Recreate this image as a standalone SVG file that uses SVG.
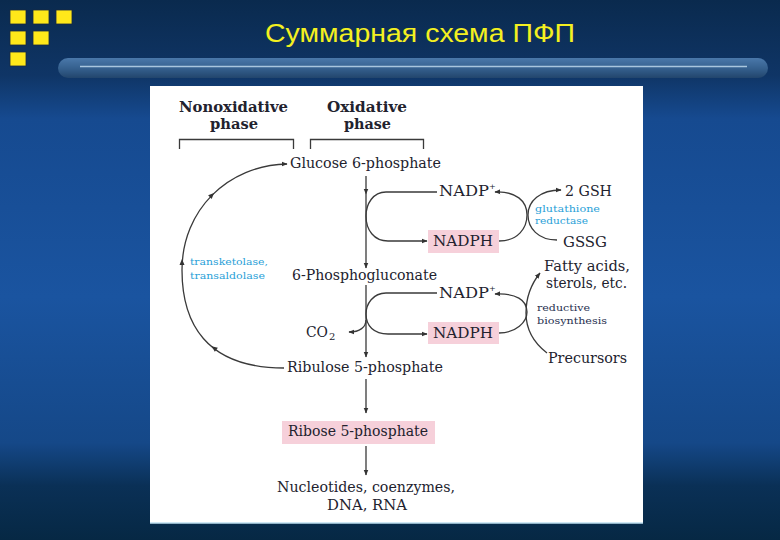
<svg xmlns="http://www.w3.org/2000/svg" width="780" height="540" viewBox="0 0 780 540">
<defs>
<linearGradient id="bg" x1="0" y1="0" x2="0" y2="1">
<stop offset="0" stop-color="#0a2a4e"/>
<stop offset="0.14" stop-color="#0f3566"/>
<stop offset="0.22" stop-color="#164a90"/>
<stop offset="0.55" stop-color="#1a54a0"/>
<stop offset="0.82" stop-color="#154888"/>
<stop offset="0.9" stop-color="#0a3056"/>
<stop offset="1" stop-color="#062844"/>
</linearGradient>
<linearGradient id="bar" x1="0" y1="0" x2="0" y2="1">
<stop offset="0" stop-color="#4a78aa"/>
<stop offset="0.5" stop-color="#36618f"/>
<stop offset="1" stop-color="#22456c"/>
</linearGradient>
<marker id="ah" viewBox="0 0 10 10" refX="9" refY="5" markerWidth="6" markerHeight="6" markerUnits="userSpaceOnUse" orient="auto">
<path d="M0,1 L10,5 L0,9 Z" fill="#333"/>
</marker>
<style>
.t{font-family:"DejaVu Serif","Liberation Serif",serif;font-size:15px;fill:#22222e}
.s{font-family:"DejaVu Serif","Liberation Serif",serif;font-size:14px;fill:#22222e}
.big{font-family:"DejaVu Serif","Liberation Serif",serif;font-size:15.5px;fill:#22222e}
.h{font-family:"DejaVu Serif","Liberation Serif",serif;font-size:14.5px;font-weight:bold;fill:#22222e}
.b{font-family:"DejaVu Serif","Liberation Serif",serif;font-size:10px;fill:#2a9fd8}
.n{font-family:"DejaVu Serif","Liberation Serif",serif;font-size:10px;fill:#283050}
.sup{font-family:"DejaVu Serif","Liberation Serif",serif;font-size:8px;fill:#22222e}
.sub{font-family:"DejaVu Serif","Liberation Serif",serif;font-size:10px;fill:#22222e}
.c{fill:none;stroke:#3a3a3a;stroke-width:1.3}
.box{fill:#f6d0da}
.sq{fill:#ffe81a;stroke:#1a2a40;stroke-width:0.8}
</style>
</defs>
<rect x="0" y="0" width="780" height="540" fill="url(#bg)"/>
<g id="squares">
<rect class="sq" x="10" y="10" width="16" height="14"/>
<rect class="sq" x="33" y="10" width="16" height="14"/>
<rect class="sq" x="56" y="10" width="16" height="14"/>
<rect class="sq" x="10" y="31" width="16" height="14"/>
<rect class="sq" x="33" y="31" width="16" height="14"/>
<rect class="sq" x="10" y="52" width="16" height="14"/>
</g>
<text x="265" y="42" textLength="310" lengthAdjust="spacingAndGlyphs" font-family="Liberation Sans, Arial, sans-serif" font-size="26" fill="#f4f020">Суммарная схема ПФП</text>
<g id="titlebar">
<rect x="58" y="58" width="710" height="20" rx="10" fill="url(#bar)"/>
<line x1="80" y1="66.5" x2="747" y2="66.5" stroke="#a9c6de" stroke-width="1.3"/>
</g>
<rect x="150" y="86" width="493" height="437" fill="#ffffff"/>
<line x1="150" y1="523" x2="643" y2="523" stroke="#bfe0f0" stroke-width="1.5"/>

<g id="headers">
<text class="h" x="179" y="112" textLength="109" lengthAdjust="spacingAndGlyphs">Nonoxidative</text>
<text class="h" x="210" y="129" textLength="48" lengthAdjust="spacingAndGlyphs">phase</text>
<text class="h" x="327" y="112" textLength="80" lengthAdjust="spacingAndGlyphs">Oxidative</text>
<text class="h" x="344" y="129" textLength="47" lengthAdjust="spacingAndGlyphs">phase</text>
<path class="c" d="M179.5,149 V139.5 H293.5 V149"/>
<path class="c" d="M310.5,149 V139.5 H423.5 V149"/>
</g>

<g id="connectors">
<path class="c" d="M284,368 C205,368 182,322 182,270 C182,210 228,165 287,164" marker-end="url(#ah)"/>
<polygon points="3,0 -3,-2.5 -3,2.5" fill="#333" transform="translate(214,348) rotate(217.6)"/>
<polygon points="3,0 -3,-2.5 -3,2.5" fill="#333" transform="translate(182,262) rotate(-90)"/>
<polygon points="3,0 -3,-2.5 -3,2.5" fill="#333" transform="translate(212,195) rotate(-45)"/>
<path class="c" d="M366,176 V194" marker-end="url(#ah)"/>
<path class="c" d="M366,194 V268" marker-end="url(#ah)"/>
<path class="c" d="M366,285 V357" marker-end="url(#ah)"/>
<path class="c" d="M366,379 V413" marker-end="url(#ah)"/>
<path class="c" d="M366,446 V475" marker-end="url(#ah)"/>
<path class="c" d="M437,192 L386,192 C373,192 366,204 366,216 C366,230 374,241 388,241 L427,241" marker-end="url(#ah)"/>
<path class="c" d="M499,241 C518,241 527,228 527,215 C527,201 516,191 495,192" marker-end="url(#ah)"/>
<path class="c" d="M557,240 C538,240 528,228 528,215 C528,201 540,190 561,190" marker-end="url(#ah)"/>
<path class="c" d="M437,293 L386,293 C373,293 366,304 366,314 C366,326 374,334 388,334 L427,334" marker-end="url(#ah)"/>
<path class="c" d="M366,320 C366,327 360,332 349,332" marker-end="url(#ah)"/>
<path class="c" d="M499,333 C516,333 527,322 527,312 C527,300 516,293 495,294" marker-end="url(#ah)"/>
<path class="c" d="M547,353 C534,343 526,330 526,313 C526,296 532,283 540,273" marker-end="url(#ah)"/>
</g>

<g id="enzyme-labels">
<text class="b" x="190" y="265" textLength="78" lengthAdjust="spacingAndGlyphs">transketolase,</text>
<text class="b" x="190" y="279" textLength="75" lengthAdjust="spacingAndGlyphs">transaldolase</text>
<text class="b" x="535" y="212" textLength="65" lengthAdjust="spacingAndGlyphs">glutathione</text>
<text class="b" x="535" y="224" textLength="53" lengthAdjust="spacingAndGlyphs">reductase</text>
<text class="n" x="537" y="311" textLength="53" lengthAdjust="spacingAndGlyphs">reductive</text>
<text class="n" x="537" y="324" textLength="70" lengthAdjust="spacingAndGlyphs">biosynthesis</text>
</g>

<g id="glucose6p"><text class="t" x="290" y="168" textLength="151" lengthAdjust="spacingAndGlyphs">Glucose 6-phosphate</text></g>
<g id="phosphogluconate"><text class="t" x="292" y="280" textLength="145" lengthAdjust="spacingAndGlyphs">6-Phosphogluconate</text></g>
<g id="ribulose5p"><text class="t" x="287" y="372" textLength="156" lengthAdjust="spacingAndGlyphs">Ribulose 5-phosphate</text></g>
<g id="ribose5p">
<rect class="box" x="282" y="421" width="153" height="23"/>
<text class="t" x="288" y="436" textLength="140" lengthAdjust="spacingAndGlyphs">Ribose 5-phosphate</text>
</g>
<g id="nucleotides">
<text class="t" x="277" y="492" textLength="178" lengthAdjust="spacingAndGlyphs">Nucleotides, coenzymes,</text>
<text class="t" x="327" y="510" textLength="80" lengthAdjust="spacingAndGlyphs">DNA, RNA</text>
</g>
<g id="nadp1">
<text class="t" x="439" y="196" textLength="50" lengthAdjust="spacingAndGlyphs">NADP</text>
<text class="sup" x="489" y="189">+</text>
</g>
<g id="nadph1">
<rect class="box" x="428" y="230" width="71" height="23"/>
<text class="big" x="433" y="246" textLength="60" lengthAdjust="spacingAndGlyphs">NADPH</text>
</g>
<g id="nadp2">
<text class="t" x="439" y="298" textLength="50" lengthAdjust="spacingAndGlyphs">NADP</text>
<text class="sup" x="489" y="291">+</text>
</g>
<g id="nadph2">
<rect class="box" x="428" y="322" width="71" height="22"/>
<text class="big" x="433" y="338" textLength="60" lengthAdjust="spacingAndGlyphs">NADPH</text>
</g>
<g id="co2">
<text class="t" x="306" y="337" textLength="22" lengthAdjust="spacingAndGlyphs">CO</text>
<text class="sub" x="329" y="340">2</text>
</g>
<g id="gsh"><text class="t" x="565" y="196" textLength="47" lengthAdjust="spacingAndGlyphs">2 GSH</text></g>
<g id="gssg"><text class="t" x="563" y="247" textLength="44" lengthAdjust="spacingAndGlyphs">GSSG</text></g>
<g id="fatty">
<text class="s" x="544" y="271" textLength="86" lengthAdjust="spacingAndGlyphs">Fatty acids,</text>
<text class="s" x="546" y="288" textLength="81" lengthAdjust="spacingAndGlyphs">sterols, etc.</text>
</g>
<g id="precursors"><text class="t" x="548" y="363" textLength="79" lengthAdjust="spacingAndGlyphs">Precursors</text></g>
</svg>
